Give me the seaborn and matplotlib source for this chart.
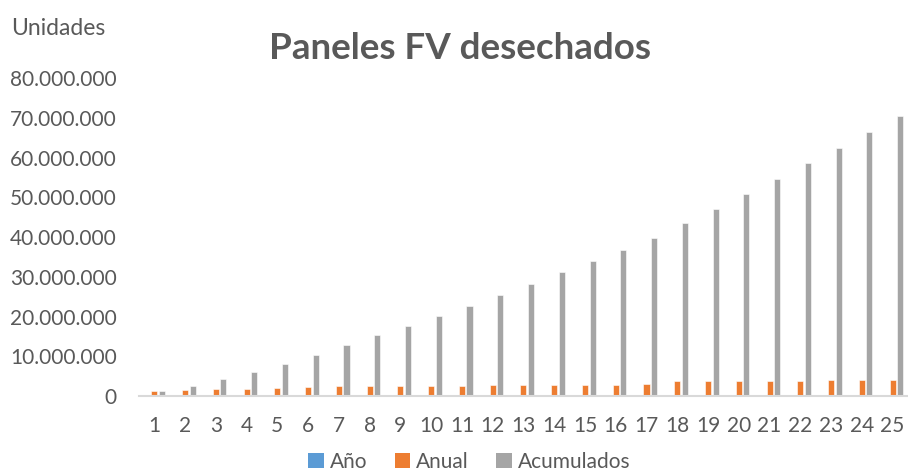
import numpy as np
import pandas as pd
import matplotlib.pyplot as plt
import matplotlib.ticker as mticker
from matplotlib.patches import Patch
import seaborn as sns

# Data (units)
anios = list(range(1, 26))
anual_m = [1.34, 1.42, 1.67, 1.84, 1.92, 2.17, 2.59, 2.42, 2.59, 2.67,
           2.67, 2.76, 2.76, 2.76, 2.84, 2.92, 3.05, 3.68, 3.68, 3.68,
           3.84, 3.88, 3.93, 4.01, 4.05]
acumulados_m = [1.34, 2.67, 4.34, 6.18, 8.10, 10.36, 12.87, 15.29, 17.6, 20.1,
                22.7, 25.5, 28.3, 31.2, 34.0, 36.8, 39.9, 43.6, 47.2, 50.9,
                54.7, 58.6, 62.5, 66.4, 70.5]
series = ["Año", "Anual", "Acumulados"]
colores = ["#5b9bd5", "#ed7d31", "#a5a5a5"]

TXT = "#595959"

sns.set_theme(style="white")
plt.rcParams["font.family"] = ["Lato", "DejaVu Sans"]

df = pd.DataFrame({
    "x": anios,
    "Año": anios,
    "Anual": [v * 1e6 for v in anual_m],
    "Acumulados": [v * 1e6 for v in acumulados_m],
})
long = df.melt(id_vars="x", value_vars=series, var_name="serie", value_name="valor")

fig = plt.figure(figsize=(9.08, 4.71), dpi=100)
ax = fig.add_axes([0.153, 0.159, 0.847, 0.675])

sns.barplot(data=long, x="x", y="valor", hue="serie", hue_order=series,
            palette=colores, width=0.74, gap=0.2, ax=ax, legend=False,
            edgecolor="white", linewidth=0.4, saturation=1)

ax.set_ylim(0, 80e6)
ax.set_yticks(np.arange(0, 80e6 + 1, 10e6))
ax.yaxis.set_major_formatter(mticker.FuncFormatter(lambda v, _: f"{v:,.0f}".replace(",", ".")))
ax.set_xlabel("")
ax.set_ylabel("")
ax.tick_params(axis="y", length=0, pad=16, labelsize=15, labelcolor=TXT)
ax.tick_params(axis="x", length=0, pad=14, labelsize=15, labelcolor=TXT)
for s in ["top", "right", "left"]:
    ax.spines[s].set_visible(False)
ax.spines["bottom"].set_color("#d9d9d9")
ax.spines["bottom"].set_linewidth(1.5)
ax.grid(False)

fig.text(0.507, 0.898, "Paneles FV desechados", ha="center", va="center",
         fontsize=26.5, fontweight="bold", color=TXT)
fig.text(0.012, 0.94, "Unidades", ha="left", va="center", fontsize=16.5, color=TXT)

handles = [Patch(facecolor=c, edgecolor="none") for c in colores]
fig.legend(handles, series, loc="center", bbox_to_anchor=(0.517, 0.02), ncol=3,
           frameon=False, fontsize=15, handlelength=0.75, handleheight=0.75,
           handletextpad=0.3, columnspacing=1.3, labelcolor=TXT)

fig.savefig("out.png", dpi=100)
